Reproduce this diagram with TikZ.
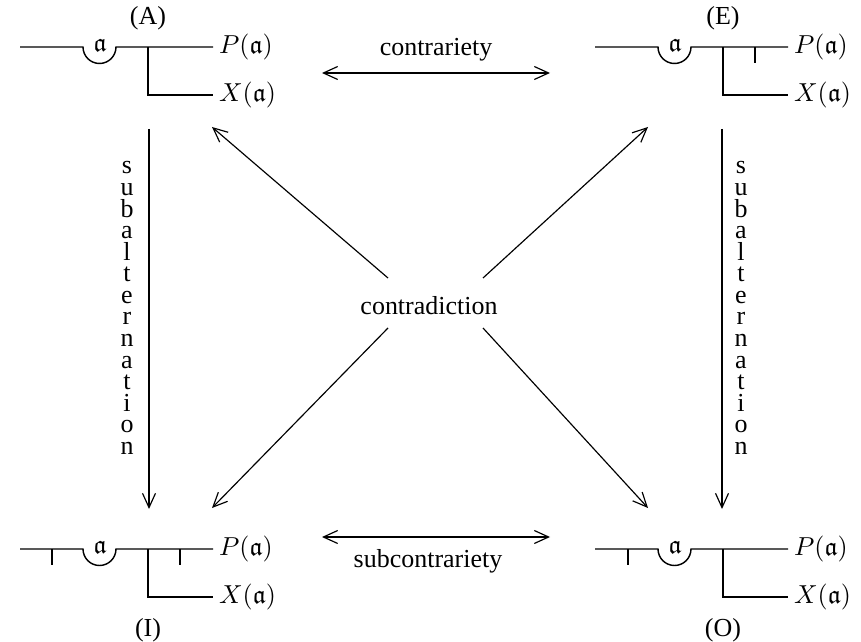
\documentclass[tikz,border=0pt]{standalone}
\usepackage{amssymb}
\usepackage{fontspec}
\setmainfont{Liberation Serif}
\usetikzlibrary{arrows.meta}
\tikzset{
    formula/.style={
        line width=0.55pt,
        black
    },
    opposition/.style={
        line width=0.45pt,
        {Straight Barb[length=5.5pt,width=5pt]}-{Straight Barb[length=5.5pt,width=5pt]}
    },
    implication/.style={
        line width=0.45pt,
        -{Straight Barb[length=5.5pt,width=5pt]}
    },
    letter column/.style={
        align=center,
        inner sep=0pt,
        font=\fontsize{10pt}{8.3pt}\selectfont
    }
}

\begin{document}
\begin{tikzpicture}[x=0.385pt, y=0.385pt]
                \useasboundingbox (0,0) rectangle (861,641);
                \coordinate (A0) at (20,594);
                \coordinate (E0) at (595,594);
                \coordinate (I0) at (20,92);
                \coordinate (O0) at (595,92);
                \coordinate (C1) at (322,568);
                \coordinate (C2) at (550,568);
                \coordinate (S1) at (322,104);
                \coordinate (S2) at (550,104);
                \coordinate (L1) at (149,512);
                \coordinate (L2) at (149,132);
                \coordinate (R1) at (722,512);
                \coordinate (R2) at (722,132);
                \coordinate (D1) at (388,363);
                \coordinate (D2) at (212,514);
                \coordinate (D3) at (483,363);
                \coordinate (D4) at (648,514);
                \coordinate (D5) at (388,313);
                \coordinate (D6) at (212,133);
                \coordinate (D7) at (483,313);
                \coordinate (D8) at (648,133);
                \begin{scope}[shift={(A0)}]
                    \draw[formula] (0,0) -- (63,0) arc[start angle=180, end angle=360, radius=6.35pt] -- (193,0);
                    \draw[formula] (128,0) -- (128,-48) -- (193,-48);
                    \node[inner sep=0pt] (alphaA) at (80,2) {$\mathfrak{a}$};
                    \node[anchor=west, inner sep=1pt] (PA) at (196,0) {$P(\mathfrak{a})$};
                    \node[anchor=west, inner sep=1pt] (XA) at (196,-48) {$X(\mathfrak{a})$};
                    \node (labA) at (128,29) {(A)};
                \end{scope}
                \begin{scope}[shift={(E0)}]
                    \draw[formula] (0,0) -- (63,0) arc[start angle=180, end angle=360, radius=6.35pt] -- (193,0);
                    \draw[formula] (128,0) -- (128,-48) -- (193,-48);
                    \draw[formula] (160,0) -- (160,-16);
                    \node[inner sep=0pt] (alphaE) at (80,2) {$\mathfrak{a}$};
                    \node[anchor=west, inner sep=1pt] (PE) at (196,0) {$P(\mathfrak{a})$};
                    \node[anchor=west, inner sep=1pt] (XE) at (196,-48) {$X(\mathfrak{a})$};
                    \node (labE) at (128,29) {(E)};
                \end{scope}
                \begin{scope}[shift={(I0)}]
                    \draw[formula] (0,0) -- (63,0) arc[start angle=180, end angle=360, radius=6.35pt] -- (193,0);
                    \draw[formula] (128,0) -- (128,-48) -- (193,-48);
                    \draw[formula] (32,0) -- (32,-16);
                    \draw[formula] (160,0) -- (160,-16);
                    \node[inner sep=0pt] (alphaI) at (80,2) {$\mathfrak{a}$};
                    \node[anchor=west, inner sep=1pt] (PI) at (196,0) {$P(\mathfrak{a})$};
                    \node[anchor=west, inner sep=1pt] (XI) at (196,-48) {$X(\mathfrak{a})$};
                    \node (labI) at (128,-81) {(I)};
                \end{scope}
                \begin{scope}[shift={(O0)}]
                    \draw[formula] (0,0) -- (63,0) arc[start angle=180, end angle=360, radius=6.35pt] -- (193,0);
                    \draw[formula] (128,0) -- (128,-48) -- (193,-48);
                    \draw[formula] (33,0) -- (33,-16);
                    \node[inner sep=0pt] (alphaO) at (80,2) {$\mathfrak{a}$};
                    \node[anchor=west, inner sep=1pt] (PO) at (196,0) {$P(\mathfrak{a})$};
                    \node[anchor=west, inner sep=1pt] (XO) at (196,-48) {$X(\mathfrak{a})$};
                    \node (labO) at (128,-81) {(O)};
                \end{scope}
                \node (contrariety) at (436,591) {contrariety};
                \node (subcontrariety) at (428,80) {subcontrariety};
                \node (contradiction) at (429,335) {contradiction};
                \node[letter column] (subaltL) at (127,333) {s\\u\\b\\a\\l\\t\\e\\r\\n\\a\\t\\i\\o\\n};
                \node[letter column] (subaltR) at (741,333) {s\\u\\b\\a\\l\\t\\e\\r\\n\\a\\t\\i\\o\\n};
                \draw[opposition] (C1) -- (C2);
                \draw[opposition] (S1) -- (S2);
                \draw[implication] (L1) -- (L2);
                \draw[implication] (R1) -- (R2);
                \draw[implication] (D1) -- (D2);
                \draw[implication] (D3) -- (D4);
                \draw[implication] (D5) -- (D6);
                \draw[implication] (D7) -- (D8);
\end{tikzpicture}
\end{document}
